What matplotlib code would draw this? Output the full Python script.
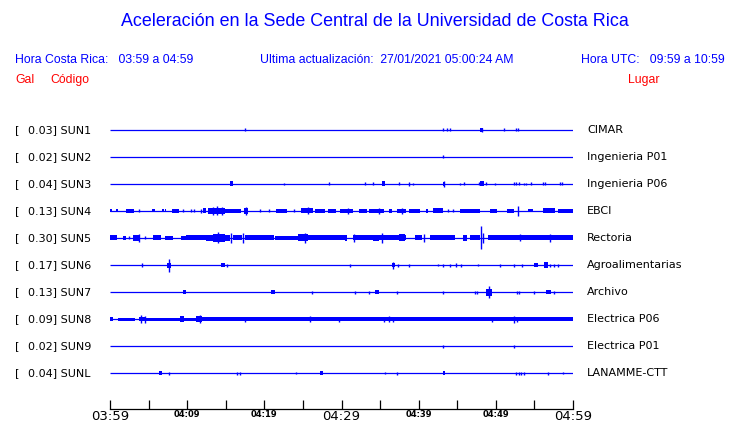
import matplotlib
matplotlib.use("Agg")
import matplotlib.pyplot as plt

# --- data: stations, gains, places ---
codes = ["SUN1", "SUN2", "SUN3", "SUN4", "SUN5", "SUN6", "SUN7", "SUN8", "SUN9", "SUNL"]
gals = [0.03, 0.02, 0.04, 0.13, 0.30, 0.17, 0.13, 0.09, 0.02, 0.04]
places = ["CIMAR", "Ingenieria P01", "Ingenieria P06", "EBCI", "Rectoria",
          "Agroalimentarias", "Archivo", "Electrica P06", "Electrica P01", "LANAMME-CTT"]

# time axis (minutes after 03:59)
tick_minutes = [0, 10, 20, 30, 40, 50, 60]
tick_labels = ["03:59", "04:09", "04:19", "04:29", "04:39", "04:49", "04:59"]
tick_big = [True, False, False, True, False, False, True]

# spikes per station: (minute, half amplitude in px of trace)
spikes = {
    "SUN1": [(17.5, 1.5), (43.2, 1.5), (43.7, 1.5), (44.0, 1.5), (48.2, 2), (51.1, 1.5),
             (52.6, 1.5), (52.9, 1.5)],
    "SUN2": [(43.2, 1.5)],
    "SUN3": [(22.6, 1), (28.4, 1.5), (33.1, 1.5), (34.1, 1.5), (37.4, 1.5), (38.7, 2),
             (39.3, 1), (43.3, 3), (45.3, 1), (45.9, 1.5), (47.8, 1.5), (48.7, 1.5),
             (49.9, 1), (52.3, 1.5), (52.6, 1.5), (53.0, 1.5), (53.6, 1), (53.9, 1),
             (54.5, 1.5), (56.1, 1.5), (56.4, 1.5), (58.3, 1.5), (58.6, 1.5)],
    "SUN4": [(3.8, 1.5), (9.5, 1.5), (10.5, 1.5), (10.9, 1.5), (11.8, 2), (13.3, 4),
             (13.9, 4.5), (14.5, 4), (17.6, 4), (19.5, 1.5), (20.6, 1.5), (23.8, 1.5),
             (25.7, 3.5), (30.8, 3), (34.8, 3), (37.9, 3), (43.8, 1.5), (44.5, 1.5),
             (52.9, 5)],
    "SUN5": [(2.5, 1.5), (3.7, 4), (4.6, 1.5), (14.0, 5.5), (15.7, 5), (17.3, 4.5),
             (25.3, 4.5), (31.6, 4), (35.3, 5), (40.7, 4), (48.1, 11.5), (48.3, 5),
             (53.1, 3.5), (57.0, 4)],
    "SUN6": [(4.2, 2), (7.6, 6.5), (15.1, 1.5), (31.1, 1.5), (36.7, 3.5), (37.3, 1.5),
             (38.7, 1.5), (42.5, 1), (43.1, 1.5), (44.0, 1.5), (44.8, 2), (45.5, 1.5),
             (47.7, 1), (50.6, 1.5), (52.3, 1.5), (53.4, 1.5), (57.0, 1.5), (57.6, 1.5),
             (58.1, 1.5)],
    "SUN7": [(26.2, 1.5), (31.8, 1.5), (33.6, 1.5), (37.2, 1.5), (43.2, 1.5), (47.3, 1.5),
             (47.6, 1.5), (49.1, 6), (52.7, 1.5), (53.0, 1.5), (54.9, 1.5), (57.6, 1.5)],
    "SUN8": [(4.0, 4), (4.5, 3.5), (11.6, 4), (17.5, 2.5), (25.9, 3), (29.7, 2.5),
             (35.5, 2.5), (36.1, 3), (36.7, 2.5), (49.5, 2.5), (52.3, 3.5), (52.7, 2.5)],
    "SUN9": [(43.2, 1.5), (52.3, 1.5)],
    "SUNL": [(7.7, 1.5), (16.4, 1.5), (16.9, 1.5), (24.1, 1), (35.7, 1), (37.2, 1.5),
             (52.6, 1.5), (53.0, 1.5), (53.3, 1.5), (53.6, 1.5), (56.7, 1.5), (58.7, 1)],
}

# bursts per station: (start minute, end minute, half amplitude px)
bursts = {
    "SUN1": [(48.0, 48.4, 2)],
    "SUN2": [],
    "SUN3": [(15.5, 15.9, 2.5), (35.2, 35.6, 2.5), (43.1, 43.4, 2), (48.0, 48.5, 2.5)],
    "SUN4": [(0.0, 0.2, 1.5), (0.8, 1.0, 1.5), (2.1, 3.1, 2), (5.5, 5.8, 1.5), (6.8, 7.0, 1.5),
             (7.1, 7.3, 1.5), (8.0, 8.9, 2), (12.1, 12.5, 2.5), (12.7, 14.9, 3), (14.9, 17.0, 2),
             (17.4, 17.9, 3), (21.5, 22.9, 2), (24.8, 26.3, 2.5), (26.6, 27.9, 2), (28.2, 29.3, 2),
             (29.8, 31.5, 2), (32.3, 33.3, 2), (33.5, 35.5, 2), (36.1, 36.5, 2), (37.2, 38.4, 2),
             (38.7, 40.2, 2), (40.9, 41.2, 2), (41.9, 43.2, 2.5), (45.4, 47.9, 2), (49.3, 50.1, 2),
             (51.4, 52.3, 2), (54.2, 54.8, 1.5), (56.1, 57.7, 2.5), (58.1, 60.0, 2)],
    "SUN5": [(0.0, 0.9, 2.5), (1.7, 2.1, 2), (3.0, 3.9, 3), (5.6, 6.6, 2.5), (7.1, 8.2, 2),
             (9.2, 9.9, 2), (9.9, 12.4, 2.5), (12.4, 13.3, 3), (13.3, 14.9, 4), (14.9, 15.6, 3),
             (16.0, 17.1, 2.5), (17.5, 21.2, 2.5), (21.4, 24.4, 2), (24.4, 25.7, 3.5),
             (25.7, 30.5, 2.5), (30.5, 30.7, 3), (31.5, 34.1, 2.5), (34.1, 34.8, 3),
             (34.8, 38.4, 2.5), (37.4, 38.2, 3.5), (39.5, 40.4, 2.5), (41.5, 44.7, 2.5),
             (45.8, 46.3, 3), (46.6, 47.9, 2.5), (49.0, 52.3, 2.5), (52.4, 60.0, 2.5)],
    "SUN6": [(7.4, 7.9, 2.5), (14.4, 14.9, 2), (36.5, 36.9, 2), (55.0, 55.4, 2), (56.2, 56.8, 3)],
    "SUN7": [(9.5, 9.9, 2), (20.9, 21.4, 2), (34.3, 34.8, 2), (48.7, 49.5, 3.5), (56.5, 57.1, 2)],
    "SUN8": [(0.0, 0.4, 2), (1.0, 3.2, 1.5), (3.8, 4.5, 2), (4.5, 9.1, 1.5), (9.1, 9.6, 3),
             (9.6, 11.2, 1.5), (11.2, 11.9, 3), (11.9, 60.0, 1.6), (33.3, 43.2, 1.8)],
    "SUN9": [],
    "SUNL": [(6.3, 6.7, 2), (27.2, 27.6, 2), (43.1, 43.4, 2)],
}

W, H = 740, 423
px = 1.0 / 27  # px of amplitude -> row units (rows are 27 px apart)
blue = "#0000ff"

fig = plt.figure(figsize=(W / 100, H / 100), dpi=100)
fig.patch.set_facecolor("white")

def ftext(x, y, s, **kw):
    fig.text(x / W, 1 - y / H, s, va="center", **kw)

#--header--
ftext(375, 22, "Aceleración en la Sede Central de la Universidad de Costa Rica",
      ha="center", color=blue, fontsize=12.9, family="Liberation Sans")
ftext(15, 60, "Hora Costa Rica:   03:59 a 04:59", color=blue, fontsize=8.8, family="Liberation Sans")
ftext(260, 60, "Ultima actualización:  27/01/2021 05:00:24 AM", color=blue, fontsize=8.8,
      family="Liberation Sans")
ftext(725, 60, "Hora UTC:   09:59 a 10:59", ha="right", color=blue, fontsize=8.8,
      family="Liberation Sans")
ftext(15, 80, "Gal", color="red", fontsize=8.8, family="Liberation Sans")
ftext(50, 80, "Código", color="red", fontsize=8.8, family="Liberation Sans")
ftext(628, 80, "Lugar", color="red", fontsize=8.8, family="Liberation Sans")

#--traces--
ax = fig.add_axes([110 / W, (H - 386.5) / H, 463 / W, 270 / H])
ax.set_xlim(0, 60)
ax.set_ylim(len(codes) - 0.5, -0.5)
ax.axis("off")

for row, code in enumerate(codes):
    ax.hlines(row, 0, 60, color=blue, lw=0.9)
    for t0, t1, h in bursts[code]:
        ax.bar(t0, 2 * h * px, width=t1 - t0, bottom=row - h * px, align="edge",
               color=blue, linewidth=0)
    for t, h in spikes[code]:
        ax.vlines(t, row - h * px, row + h * px, color=blue, lw=1.0)
    # labels left and right
    y = 130 + 27 * row
    ftext(15, y, "[", fontsize=8, color="black")
    ftext(28, y, "%.2f] %s" % (gals[row], code), fontsize=8, color="black")
    ftext(587, y, places[row], fontsize=8, color="black")

#--time axis--
tax = fig.add_axes([110 / W, (H - 409) / H, 463 / W, 0.01])
tax.set_xlim(0, 60)
tax.set_yticks([])
for s in ["top", "left", "right"]:
    tax.spines[s].set_visible(False)
tax.spines["bottom"].set_linewidth(0.9)
tax.set_xticks(list(range(0, 61, 5)))
tax.set_xticklabels([tick_labels[tick_minutes.index(m)] if m in tick_minutes else ""
                     for m in range(0, 61, 5)])
tax.tick_params(axis="x", direction="in", length=6.5, width=0.9, pad=0.8)
for lab, m in zip(tax.get_xticklabels(), range(0, 61, 5)):
    if m in tick_minutes:
        if tick_big[tick_minutes.index(m)]:
            lab.set_fontsize(9.5)
        else:
            lab.set_fontsize(6)
            lab.set_fontweight("bold")

fig.savefig("out.png", dpi=100)
